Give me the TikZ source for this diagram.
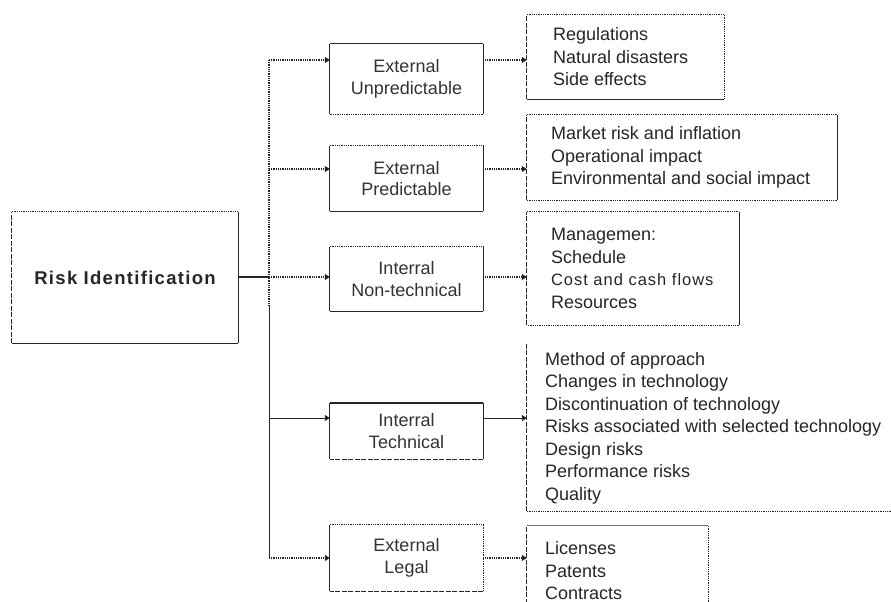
\documentclass[tikz,border=0pt]{standalone}
\usepackage{fontspec}
\setmainfont{Liberation Sans}
\usetikzlibrary{arrows.meta}
\tikzset{
  sl/.style={draw=black!85, line width=0.9pt},
  dt/.style={draw=black!85, line width=1.2pt, dash pattern=on 0.9pt off 0.9pt},
  ds/.style={draw=black!85, line width=1.1pt, dash pattern=on 5pt off 1.5pt},
  nn/.style={draw=none},
  boxshape/.style={rectangle, inner sep=0pt, draw=none},
  midtext/.style={font=\fontsize{18}{21.5}\selectfont, text=black!80, align=center},
  listtext/.style={font=\fontsize{18}{22.5}\selectfont, text=black!85, align=left, anchor=west, inner sep=0pt},
  tip/.style={-{Triangle[length=5pt,width=6pt,fill=black]}},
}
\newcommand{\sidesof}[5]{%
  \draw[#2] (#1.north west) -- (#1.north east);
  \draw[#3] (#1.north east) -- (#1.south east);
  \draw[#4] (#1.south east) -- (#1.south west);
  \draw[#5] (#1.south west) -- (#1.north west);}
\begin{document}
\begin{tikzpicture}[x=1pt,y=-1pt]
\useasboundingbox (0,0) rectangle (891,602);
\fill[white] (0,0) rectangle (891,602);
\clip (0,0) rectangle (891,602);

% root
\node[boxshape, minimum width=226pt, minimum height=131pt,
  font=\fontsize{18.5}{22}\selectfont\bfseries\addfontfeature{LetterSpace=7}, text=black!85] (risk) at (125,277.5) {Risk Identification};
\sidesof{risk}{dt}{sl}{sl}{ds}

% middle boxes
\node[boxshape, midtext, minimum width=153pt, minimum height=70pt] (m1) at (406.5,79) {External\\Unpredictable};
\node[boxshape, midtext, minimum width=153pt, minimum height=65pt] (m2) at (406.5,178.5) {External\\Predictable};
\node[boxshape, midtext, minimum width=153pt, minimum height=64pt] (m3) at (406.5,279) {Interral\\Non-technical};
\node[boxshape, midtext, minimum width=153pt, minimum height=56pt] (m4) at (406.5,431) {Interral\\Technical};
\node[boxshape, midtext, minimum width=153pt, minimum height=66pt] (m5) at (406.5,558) {External\\Legal};
\sidesof{m1}{sl}{sl}{dt}{sl}
\sidesof{m2}{dt}{sl}{sl}{sl}
\sidesof{m3}{dt}{sl}{sl}{sl}
\sidesof{m4}{sl,line width=1.4pt}{sl}{ds}{sl}
\sidesof{m5}{dt}{dt}{ds}{sl}

% right boxes
\node[boxshape, minimum width=197pt, minimum height=84pt] (r1) at (625.5,57) {};
\node[boxshape, minimum width=310pt, minimum height=85pt] (r2) at (682,157.5) {};
\node[boxshape, minimum width=212pt, minimum height=113pt] (r3) at (633,268.5) {};
\node[boxshape, minimum width=364pt, minimum height=168pt] (r4) at (709,427) {};
\node[boxshape, minimum width=181pt, minimum height=84pt] (r5) at (617.5,568) {};
\sidesof{r1}{dt}{dt}{sl}{ds}
\sidesof{r2}{dt}{sl}{dt}{ds}
\sidesof{r3}{dt}{sl}{dt}{ds}
\sidesof{r4}{nn}{nn}{dt}{ds}
\sidesof{r5}{sl,draw=black!55}{dt}{nn}{ds}

\node[listtext] (r1t) at ([xshift=26pt]r1.west) {Regulations\\Natural disasters\\Side effects};
\node[listtext] (r2t) at ([xshift=24pt]r2.west) {Market risk and inflation\\Operational impact\\Environmental and social impact};
\node[listtext] (r3t) at ([xshift=24pt]r3.west) {Managemen:\\Schedule\\{\fontsize{16.5}{22.5}\selectfont\addfontfeature{LetterSpace=6}Cost and cash flows}\\Resources};
\node[listtext] (r4t) at ([xshift=18pt,yshift=-1pt]r4.west) {Method of approach\\Changes in technology\\Discontinuation of technology\\Risks associated with selected technology\\Design risks\\Performance risks\\Quality};
\node[listtext] (r5t) at ([xshift=18pt,yshift=-3pt]r5.west) {Licenses\\Patents\\Contracts};

% trunk
\coordinate (t1) at (269,60);
\coordinate (t2) at (269,169);
\coordinate (t3) at (269,277);
\coordinate (tm) at (269,305);
\coordinate (t4) at (269,418);
\coordinate (t5) at (269,558);
\draw[dt] (t1) -- (tm);
\draw[sl] (tm) -- (t5);
\draw[sl, line width=1.5pt] (risk.east |- t3) -- (t3);

\draw[dt, tip] (t1) -- (t1 -| m1.west);
\draw[dt, tip] (t2) -- (t2 -| m2.west);
\draw[dt, tip] (t3) -- (t3 -| m3.west);
\draw[sl, tip] (t4) -- (t4 -| m4.west);
\draw[dt, tip] (t5) -- (t5 -| m5.west);

\draw[dt, tip] (t1 -| m1.east) -- (t1 -| r1.west);
\draw[dt, tip] (t2 -| m2.east) -- (t2 -| r2.west);
\draw[dt, tip] (t3 -| m3.east) -- (t3 -| r3.west);
\draw[sl, tip] (t4 -| m4.east) -- (t4 -| r4.west);
\draw[dt, tip] (t5 -| m5.east) -- (t5 -| r5.west);
\end{tikzpicture}
\end{document}
